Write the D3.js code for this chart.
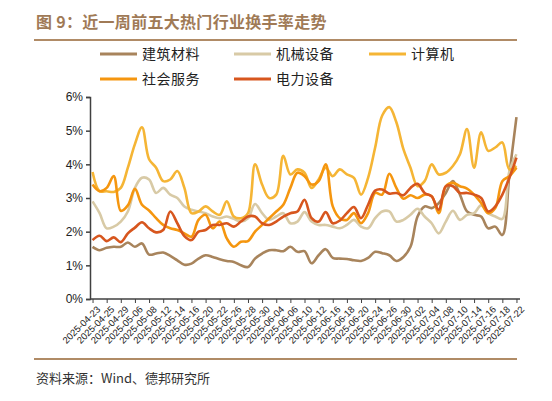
<!DOCTYPE html>
<html lang="zh">
<head>
  <meta charset="UTF-8">
  <title>近一周前五大热门行业换手率走势</title>
  <script src="https://d3js.org/d3.v7.min.js"></script>
  <style>
    * {
      box-sizing: border-box;
      margin: 0;
      padding: 0;
    }

    body {
      background: #fff;
      width: 552px;
      height: 401px;
      overflow: hidden;
    }

    svg {
      display: block;
      font-family: "Liberation Sans", Arial, sans-serif;
    }

    .cjk {
      font-family: "Noto Sans CJK SC", sans-serif;
    }
  </style>
</head>
<body>
  <svg id="chart" width="552" height="401"></svg>

  <script>
    // trading days shown on the x axis
    const dates = [
      "2025-04-23", "2025-04-24", "2025-04-25", "2025-04-28", "2025-04-29", "2025-04-30",
      "2025-05-06", "2025-05-07", "2025-05-08", "2025-05-09", "2025-05-12", "2025-05-13",
      "2025-05-14", "2025-05-15", "2025-05-16", "2025-05-19", "2025-05-20", "2025-05-21",
      "2025-05-22", "2025-05-23", "2025-05-26", "2025-05-27", "2025-05-28", "2025-05-29",
      "2025-05-30", "2025-06-03", "2025-06-04", "2025-06-05", "2025-06-06", "2025-06-09",
      "2025-06-10", "2025-06-11", "2025-06-12", "2025-06-13", "2025-06-16", "2025-06-17",
      "2025-06-18", "2025-06-19", "2025-06-20", "2025-06-23", "2025-06-24", "2025-06-25",
      "2025-06-26", "2025-06-27", "2025-06-30", "2025-07-01", "2025-07-02", "2025-07-03",
      "2025-07-04", "2025-07-07", "2025-07-08", "2025-07-09", "2025-07-10", "2025-07-11",
      "2025-07-14", "2025-07-15", "2025-07-16", "2025-07-17", "2025-07-18", "2025-07-21",
      "2025-07-22"
    ];

    const seriesNames = ["建筑材料", "机械设备", "计算机", "社会服务", "电力设备"];
    const seriesColors = ["#A8845C", "#D8CAA6", "#F5B535", "#F5960F", "#D7561E"];

    // turnover rate, %
    const buildingMaterials = [
      1.55, 1.45, 1.52, 1.55, 1.55, 1.68, 1.55, 1.65, 1.32, 1.35,
      1.38, 1.28, 1.15, 1.02, 1.05, 1.2, 1.3, 1.25, 1.18, 1.13,
      1.1, 1.0, 0.95, 1.2, 1.35, 1.45, 1.45, 1.42, 1.55, 1.4,
      1.42, 1.06, 1.3, 1.48, 1.22, 1.2, 1.19, 1.15, 1.13, 1.22,
      1.4, 1.36, 1.3, 1.13, 1.25, 1.55, 2.45, 2.75, 2.7, 2.85,
      3.15, 3.5, 3.1, 2.6, 2.5, 2.45, 2.1, 2.15, 1.9, 3.7, 5.4
    ];
    const machinery = [
      2.9, 2.55, 2.1, 2.15, 2.3, 2.6, 3.3, 3.6, 3.55, 3.15,
      3.3, 3.1, 3.0, 2.75, 2.65, 2.6, 2.55, 2.45, 2.4, 2.45,
      2.38, 2.3, 2.4, 2.82, 2.55, 2.35, 2.45, 2.55, 2.25, 2.3,
      2.58, 2.3, 2.2, 2.2, 2.15, 2.1, 2.2, 2.35, 2.15, 2.1,
      2.4, 2.6, 2.6, 2.3, 2.35, 2.5, 2.68, 2.45, 2.25, 1.95,
      2.3, 2.62, 2.35, 2.5, 2.55, 2.78, 2.55, 2.45, 2.38, 3.8, 4.3
    ];
    const computer = [
      3.77, 3.2, 3.2, 3.18, 3.3, 3.9, 4.6, 5.1, 4.15, 3.9,
      3.5, 3.55, 3.8, 3.3, 2.55, 2.6, 2.75, 2.6, 2.5, 2.9,
      2.45, 2.4, 2.55, 4.0, 3.4, 3.0, 3.1, 4.25, 3.7, 3.85,
      3.75, 3.3, 3.55, 3.9, 3.65, 3.85, 3.7, 3.6, 3.1, 3.6,
      4.5, 5.45, 5.7, 5.25, 4.45, 3.9, 3.35, 3.5, 4.0, 3.7,
      3.75, 3.95, 4.3, 5.05, 3.9, 4.95, 4.4, 4.5, 4.65, 3.85, 3.95
    ];
    const socialServices = [
      3.4, 3.2, 3.3, 3.65, 2.62, 2.78, 3.27, 2.8, 2.63, 2.4,
      2.2, 2.1, 2.05, 1.95, 1.85, 2.35, 2.5, 2.1, 2.3, 1.8,
      1.55, 1.7, 1.72, 2.0, 2.2, 2.4, 2.6, 2.8, 3.3, 3.75,
      3.65, 3.4, 3.5, 4.0, 2.75, 2.4, 2.35, 2.55, 2.25, 2.55,
      3.15, 3.1, 3.72, 3.3, 2.98, 3.08, 3.0, 3.1, 3.05, 2.55,
      3.35, 3.45, 3.35, 3.28, 3.1, 2.85, 2.55, 2.7, 3.5, 3.65, 3.9
    ];
    const powerEquipment = [
      1.75, 1.88, 1.72, 1.83, 1.69, 1.95, 2.12, 2.28, 2.1, 1.98,
      2.05, 2.6, 2.25, 1.87, 1.75, 2.0, 2.05, 2.2, 2.2, 2.25,
      2.15, 2.3, 2.45, 2.45, 2.25, 2.2, 2.3, 2.45, 2.55, 2.6,
      2.95, 2.4, 2.3, 2.58, 2.25, 2.33, 2.55, 2.73, 2.4, 2.8,
      3.22, 3.25, 3.13, 3.15, 3.08, 3.3, 3.42, 3.15, 3.05, 2.65,
      3.35, 3.35, 3.15, 3.15, 3.1, 3.0, 2.6, 2.75, 3.1, 3.6, 4.2
    ];

    const yTicks = [0, 1, 2, 3, 4, 5, 6];

    const seriesValues = [buildingMaterials, machinery, computer, socialServices, powerEquipment];

    const svg = d3.select("#chart");
    const brown = "#B08B66";
    const axisColor = "#404040";

    const plot = { left: 90, right: 520, top: 97, bottom: 299 };

    // title + rules
    svg.append("text")
      .attr("class", "cjk")
      .attr("x", 36)
      .attr("y", 28)
      .attr("fill", "#A07A56")
      .attr("font-size", 16)
      .attr("font-weight", 700)
      .attr("letter-spacing", 0.3)
      .text("图 9：近一周前五大热门行业换手率走势");

    svg.append("line")
      .attr("x1", 34).attr("x2", 517)
      .attr("y1", 40).attr("y2", 40)
      .attr("stroke", brown)
      .attr("stroke-width", 2);

    svg.append("line")
      .attr("x1", 34).attr("x2", 517)
      .attr("y1", 359).attr("y2", 359)
      .attr("stroke", brown)
      .attr("stroke-width", 2);

    svg.append("text")
      .attr("class", "cjk")
      .attr("x", 36)
      .attr("y", 383)
      .attr("fill", "#333")
      .attr("font-size", 13)
      .text("资料来源：Wind、德邦研究所");

    // legend, 3 per row
    const legend = svg.append("g");
    seriesNames.forEach((name, i) => {
      const col = i % 3, row = Math.floor(i / 3);
      const lx = [100, 234, 369][col];
      const ly = 54 + row * 25;
      legend.append("line")
        .attr("x1", lx).attr("x2", lx + 37)
        .attr("y1", ly).attr("y2", ly)
        .attr("stroke", seriesColors[i])
        .attr("stroke-width", 3);
      legend.append("text")
        .attr("class", "cjk")
        .attr("x", lx + 42)
        .attr("y", ly + 5)
        .attr("fill", "#222")
        .attr("font-size", 14)
        .attr("letter-spacing", 0.5)
        .text(name);
    });

    // scales
    const x = d3.scalePoint()
      .domain(dates)
      .range([plot.left - 1, plot.right])
      .padding(0.5);

    const y = d3.scaleLinear()
      .domain([0, 6])
      .range([plot.bottom, plot.top]);

    // y axis
    const yAxis = svg.append("g")
      .attr("transform", `translate(${plot.left},0)`)
      .call(d3.axisLeft(y).tickValues(yTicks).tickSize(4).tickFormat(d => d + "%"));
    yAxis.select(".domain").attr("stroke", axisColor).attr("stroke-width", 1.5);
    yAxis.selectAll(".tick line").attr("stroke", axisColor).attr("stroke-width", 1.5);
    yAxis.selectAll(".tick text")
      .attr("x", -7)
      .attr("fill", "#222")
      .attr("font-size", 12)
      .attr("font-family", "Liberation Sans, Arial, sans-serif");

    // x axis, every other trading day labelled
    const labelled = dates.filter((d, i) => i % 2 === 0);
    const xAxis = svg.append("g")
      .attr("transform", `translate(0,${plot.bottom})`)
      .call(d3.axisBottom(x).tickValues(labelled).tickSize(4).tickSizeOuter(0));
    xAxis.select(".domain")
      .attr("d", `M${plot.left},0H${plot.right}`)
      .attr("stroke", axisColor)
      .attr("stroke-width", 1.5);
    xAxis.selectAll(".tick line").attr("stroke", axisColor).attr("stroke-width", 1);
    xAxis.selectAll(".tick text")
      .attr("fill", "#222")
      .attr("font-size", 9.5)
      .attr("font-family", "Liberation Sans, Arial, sans-serif")
      .attr("text-anchor", "end")
      .attr("dy", 0)
      .attr("transform", "translate(3,6) rotate(-45)");

    // lines
    const line = d3.line()
      .x((d, i) => x(dates[i]))
      .y(d => y(d))
      .curve(d3.curveCatmullRom.alpha(0.5));

    svg.append("g")
      .selectAll("path")
      .data(seriesValues)
      .join("path")
      .attr("fill", "none")
      .attr("stroke", (d, i) => seriesColors[i])
      .attr("stroke-width", 2.6)
      .attr("stroke-linejoin", "round")
      .attr("d", line);
  </script>
</body>
</html>
